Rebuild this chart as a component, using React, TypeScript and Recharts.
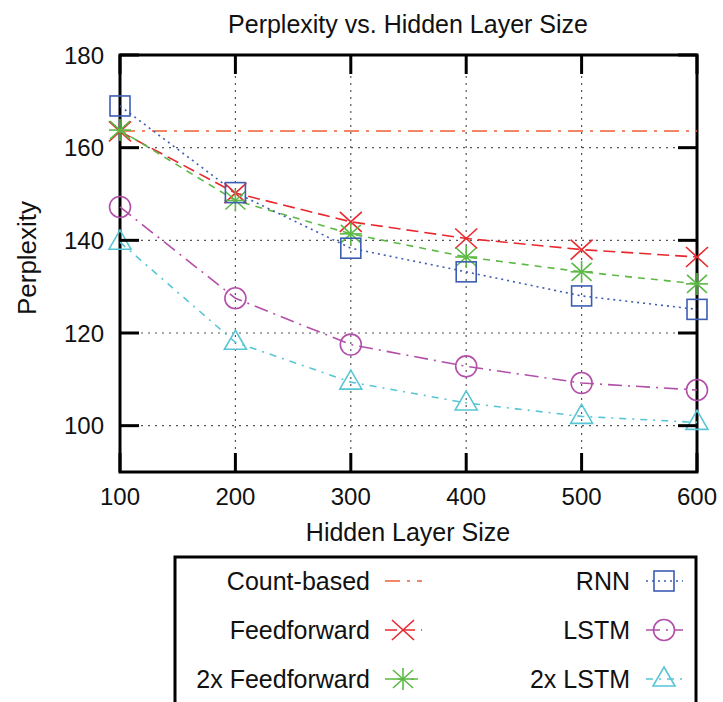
import React from "react";
import { LineChart, Line, XAxis, YAxis, CartesianGrid, Legend } from "recharts";

const hiddenSizes = [100, 200, 300, 400, 500, 600];
const countBased = [163.6, 163.6, 163.6, 163.6, 163.6, 163.6];
const feedforward = [163.5, 150.2, 144.0, 140.4, 138.0, 136.4];
const feedforward2x = [163.8, 148.6, 141.4, 136.4, 133.2, 130.6];
const rnn = [169.0, 150.3, 138.3, 133.2, 128.0, 125.1];
const lstm = [147.2, 127.5, 117.5, 112.8, 109.2, 107.7];
const lstm2x = [139.6, 118.0, 109.4, 104.9, 102.0, 100.7];

const xTicks = [100, 200, 300, 400, 500, 600];
const yTicks = [100, 120, 140, 160, 180];

const titleText = "Perplexity vs. Hidden Layer Size";
const xLabel = "Hidden Layer Size";
const yLabel = "Perplexity";

const data = hiddenSizes.map((s, i) => ({
  size: s,
  count: countBased[i],
  ff: feedforward[i],
  ff2: feedforward2x[i],
  rnn: rnn[i],
  lstm: lstm[i],
  lstm2: lstm2x[i],
}));

const FONT = "'Liberation Sans', Arial, Helvetica, sans-serif";
const W = 723;
const H = 702;
const L = 120, T = 55, R = 697, B = 472;
const TICK = 19;
const YAXIS_W = 60;
const XAXIS_H = 40;

type Shape = "none" | "x" | "star" | "square" | "circle" | "triangle";
type SeriesDef = { key: string; name: string; color: string; dash: string; shape: Shape };

const series: SeriesDef[] = [
  { key: "count", name: "Count-based", color: "#EE5F35", dash: "15 7 3 7", shape: "none" },
  { key: "ff", name: "Feedforward", color: "#E8282E", dash: "12 6", shape: "x" },
  { key: "ff2", name: "2x Feedforward", color: "#5DB946", dash: "7 6", shape: "star" },
  { key: "rnn", name: "RNN", color: "#3D5DB3", dash: "2 4", shape: "square" },
  { key: "lstm", name: "LSTM", color: "#B24FA9", dash: "14 6 2 6", shape: "circle" },
  { key: "lstm2", name: "2x LSTM", color: "#58C5D5", dash: "7 6 2 6", shape: "triangle" },
];

function Marker({ cx, cy, shape, color }: { cx: number; cy: number; shape: Shape; color: string }) {
  const sw = 1.6;
  if (shape === "x") {
    return (
      <g stroke={color} strokeWidth={sw} fill="none">
        <line x1={cx - 11} y1={cy - 10} x2={cx + 11} y2={cy + 10} />
        <line x1={cx - 11} y1={cy + 10} x2={cx + 11} y2={cy - 10} />
      </g>
    );
  }
  if (shape === "star") {
    return (
      <g stroke={color} strokeWidth={sw} fill="none">
        <line x1={cx - 10} y1={cy - 9} x2={cx + 10} y2={cy + 9} />
        <line x1={cx - 10} y1={cy + 9} x2={cx + 10} y2={cy - 9} />
        <line x1={cx} y1={cy - 11} x2={cx} y2={cy + 11} />
        <line x1={cx - 11} y1={cy} x2={cx + 11} y2={cy} />
      </g>
    );
  }
  if (shape === "square") {
    return <rect x={cx - 10} y={cy - 10} width={20} height={20} stroke={color} strokeWidth={sw} fill="none" />;
  }
  if (shape === "circle") {
    return <circle cx={cx} cy={cy} r={10.5} stroke={color} strokeWidth={sw} fill="none" />;
  }
  if (shape === "triangle") {
    return (
      <polygon
        points={`${cx},${cy - 12} ${cx + 11},${cy + 7} ${cx - 11},${cy + 7}`}
        stroke={color}
        strokeWidth={sw}
        fill="none"
      />
    );
  }
  return null;
}

function XTick(props: any) {
  const { x, payload } = props;
  return (
    <g>
      <line x1={x} x2={x} y1={B} y2={B - TICK} stroke="#000" strokeWidth={3} />
      <line x1={x} x2={x} y1={T} y2={T + TICK} stroke="#000" strokeWidth={3} />
      <text x={x} y={505} textAnchor="middle" fontSize={24} fontFamily={FONT} fill="#111">
        {payload.value}
      </text>
    </g>
  );
}

function YTick(props: any) {
  const { y, payload } = props;
  return (
    <g>
      <line x1={L} x2={L + TICK} y1={y} y2={y} stroke="#000" strokeWidth={3} />
      <line x1={R} x2={R - TICK} y1={y} y2={y} stroke="#000" strokeWidth={3} />
      <text x={104} y={y + 8.5} textAnchor="end" fontSize={24} fontFamily={FONT} fill="#111">
        {payload.value}
      </text>
    </g>
  );
}

function LegendBox() {
  const left = series.slice(0, 3);
  const right = series.slice(3);
  const rows = [581, 630, 679];
  const renderItem = (s: SeriesDef, textRight: number, cx: number, cy: number) => (
    <g key={s.key}>
      <text x={textRight} y={cy + 8.5} textAnchor="end" fontSize={25} fontFamily={FONT} fill="#111">
        {s.name}
      </text>
      <line x1={cx - 18} x2={cx + 19} y1={cy} y2={cy} stroke={s.color} strokeWidth={1.6} strokeDasharray={s.dash} />
      <Marker cx={cx} cy={cy} shape={s.shape} color={s.color} />
    </g>
  );
  return (
    <svg
      width={W}
      height={H}
      style={{ position: "absolute", left: 0, top: 0, overflow: "hidden", pointerEvents: "none" }}
    >
      <rect x={175} y={557} width={521} height={170} fill="none" stroke="#000" strokeWidth={3} />
      {left.map((s, i) => renderItem(s, 370, 403, rows[i]))}
      {right.map((s, i) => renderItem(s, 630, 664, rows[i]))}
    </svg>
  );
}

export default function App() {
  return (
    <div
      style={{
        position: "fixed",
        left: 0,
        top: 0,
        width: W,
        height: H,
        overflow: "hidden",
        background: "#fff",
      }}
    >
      <LineChart
        width={W}
        height={H}
        data={data}
        margin={{ top: T, left: L - YAXIS_W, right: W - R, bottom: H - B - XAXIS_H }}
      >
        <CartesianGrid
          stroke="#555"
          strokeDasharray="2 5"
          strokeWidth={1.2}
          horizontalValues={yTicks}
          verticalValues={xTicks}
        />
        <XAxis
          dataKey="size"
          type="number"
          domain={[100, 600]}
          ticks={xTicks}
          height={XAXIS_H}
          axisLine={false}
          tickLine={false}
          tick={(p: any) => <XTick {...p} />}
          interval={0}
        />
        <YAxis
          type="number"
          domain={[90, 180]}
          ticks={yTicks}
          width={YAXIS_W}
          axisLine={false}
          tickLine={false}
          tick={(p: any) => <YTick {...p} />}
          interval={0}
        />
        {series.map((s) => (
          <Line
            key={s.key}
            dataKey={s.key}
            name={s.name}
            type="linear"
            stroke={s.color}
            strokeWidth={1.6}
            strokeDasharray={s.dash}
            isAnimationActive={false}
            dot={(p: any) => (
              <Marker key={`${s.key}-${p.index}`} cx={p.cx} cy={p.cy} shape={s.shape} color={s.color} />
            )}
            activeDot={false}
          />
        ))}
        <rect x={L} y={T} width={R - L} height={B - T} fill="none" stroke="#000" strokeWidth={3} />
        <text x={408} y={33} textAnchor="middle" fontSize={25} fontFamily={FONT} fill="#111">
          {titleText}
        </text>
        <text x={408} y={541} textAnchor="middle" fontSize={25} fontFamily={FONT} fill="#111">
          {xLabel}
        </text>
        <text
          x={36}
          y={258}
          textAnchor="middle"
          fontSize={26}
          fontFamily={FONT}
          fill="#111"
          transform="rotate(-90 36 258)"
        >
          {yLabel}
        </text>
        <Legend
          content={() => <LegendBox />}
          wrapperStyle={{ left: 0, top: 0, bottom: "auto", width: 0, height: 0, overflow: "visible" }}
        />
      </LineChart>
    </div>
  );
}
